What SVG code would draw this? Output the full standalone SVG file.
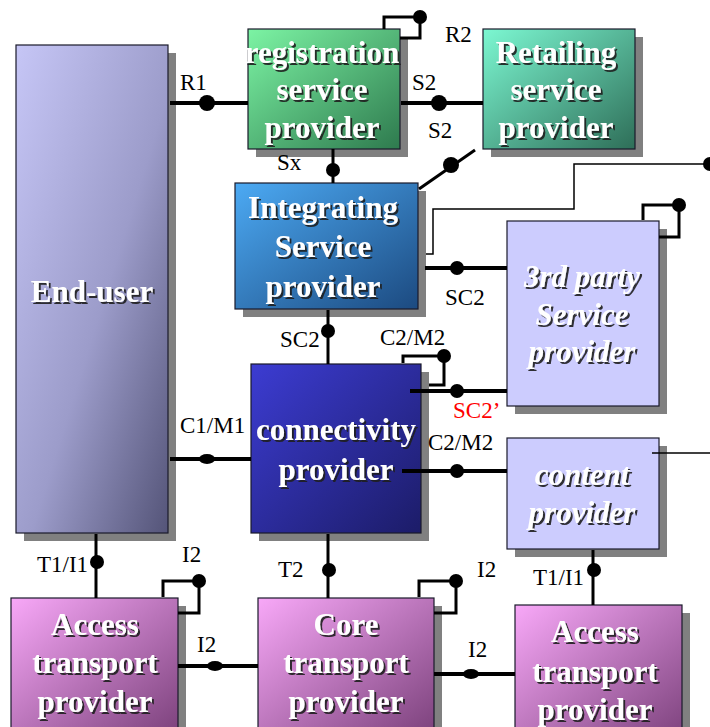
<svg xmlns="http://www.w3.org/2000/svg" width="710" height="727" viewBox="0 0 710 727">
  <defs>
    <linearGradient id="gUser" x1="0" y1="0" x2="1" y2="1">
      <stop offset="0" stop-color="#c6c6f6"/>
      <stop offset="0.55" stop-color="#9c9cca"/>
      <stop offset="1" stop-color="#545478"/>
    </linearGradient>
    <linearGradient id="gReg" x1="0" y1="0" x2="1" y2="1">
      <stop offset="0" stop-color="#7cf4a4"/>
      <stop offset="1" stop-color="#2e7a4e"/>
    </linearGradient>
    <linearGradient id="gRet" x1="0" y1="0" x2="1" y2="1">
      <stop offset="0" stop-color="#7cf8d2"/>
      <stop offset="1" stop-color="#2e6e58"/>
    </linearGradient>
    <linearGradient id="gInt" x1="0" y1="0" x2="1" y2="1">
      <stop offset="0" stop-color="#4caaf4"/>
      <stop offset="1" stop-color="#1c4a80"/>
    </linearGradient>
    <linearGradient id="gConn" x1="0" y1="0" x2="1" y2="1">
      <stop offset="0" stop-color="#3c3cd2"/>
      <stop offset="1" stop-color="#1c1c68"/>
    </linearGradient>
    <linearGradient id="gTrans" x1="0" y1="0" x2="1" y2="1">
      <stop offset="0" stop-color="#f8a8f8"/>
      <stop offset="1" stop-color="#7a407a"/>
    </linearGradient>
    <filter id="ts" x="-10%" y="-30%" width="120%" height="160%">
      <feDropShadow dx="2" dy="2" stdDeviation="0.4" flood-color="#1a1a1a" flood-opacity="0.9"/>
    </filter>
    <style>
      .shadow { fill: #808080; }
      .box { stroke: #1a1a2a; stroke-width: 1.2; }
      .name { font-family: "Liberation Serif", "Times New Roman", serif; font-weight: bold; font-size: 31px; fill: #ffffff; text-anchor: middle; filter: url(#ts); }
      .it { font-style: italic; }
      .lbl { font-family: "Liberation Serif", "Times New Roman", serif; font-size: 23px; fill: #000000; }
      .red { fill: #ff0000; }
      .wire { fill: none; stroke: #000000; stroke-width: 4; }
      .loop { fill: none; stroke: #000000; stroke-width: 3; }
      .thin { fill: none; stroke: #000000; stroke-width: 1.5; }
      .dot { fill: #000000; }
    </style>
  </defs>

  <!-- nodes -->
  <g id="end-user">
    <rect class="shadow" x="24" y="53" width="152" height="488"/>
    <rect class="box" x="16" y="45" width="152" height="488" fill="url(#gUser)"/>
    <text class="name" x="92" y="302">End-user</text>
  </g>

  <g id="registration">
    <rect class="shadow" x="256" y="37" width="152" height="120"/>
    <rect class="box" x="248" y="29" width="152" height="120" fill="url(#gReg)"/>
    <text class="name" x="322" y="63">registration</text>
    <text class="name" x="322" y="100">service</text>
    <text class="name" x="322" y="138">provider</text>
  </g>

  <g id="retailing">
    <rect class="shadow" x="491" y="37" width="152" height="120"/>
    <rect class="box" x="483" y="29" width="152" height="120" fill="url(#gRet)"/>
    <text class="name" x="556" y="63">Retailing</text>
    <text class="name" x="556" y="100">service</text>
    <text class="name" x="556" y="138">provider</text>
  </g>

  <g id="integrating">
    <rect class="shadow" x="243" y="191" width="183" height="126"/>
    <rect class="box" x="235" y="183" width="183" height="126" fill="url(#gInt)"/>
    <text class="name" x="323" y="218">Integrating</text>
    <text class="name" x="323" y="257">Service</text>
    <text class="name" x="323" y="297">provider</text>
  </g>

  <g id="third-party">
    <rect class="shadow" x="515" y="229" width="152" height="185"/>
    <rect class="box" x="507" y="221" width="152" height="185" fill="#ccccfe"/>
    <text class="name it" x="582" y="287">3rd party</text>
    <text class="name it" x="582" y="325">Service</text>
    <text class="name it" x="582" y="362">provider</text>
  </g>

  <g id="connectivity">
    <rect class="shadow" x="259" y="372" width="170" height="169"/>
    <rect class="box" x="251" y="364" width="170" height="169" fill="url(#gConn)"/>
    <text class="name" x="336" y="440">connectivity</text>
    <text class="name" x="336" y="480">provider</text>
  </g>

  <g id="content">
    <rect class="shadow" x="515" y="446" width="152" height="111"/>
    <rect class="box" x="507" y="438" width="152" height="111" fill="#ccccfe"/>
    <text class="name it" x="582" y="485">content</text>
    <text class="name it" x="582" y="523">provider</text>
  </g>

  <g id="access-left">
    <rect class="shadow" x="19" y="606" width="167" height="130"/>
    <rect class="box" x="11" y="598" width="167" height="140" fill="url(#gTrans)"/>
    <text class="name" x="95" y="635">Access</text>
    <text class="name" x="95" y="673">transport</text>
    <text class="name" x="95" y="712">provider</text>
  </g>

  <g id="core">
    <rect class="shadow" x="266" y="606" width="176" height="130"/>
    <rect class="box" x="258" y="598" width="176" height="140" fill="url(#gTrans)"/>
    <text class="name" x="346" y="635">Core</text>
    <text class="name" x="346" y="673">transport</text>
    <text class="name" x="346" y="712">provider</text>
  </g>

  <g id="access-right">
    <rect class="shadow" x="523" y="613" width="167" height="130"/>
    <rect class="box" x="515" y="605" width="167" height="140" fill="url(#gTrans)"/>
    <text class="name" x="595" y="642">Access</text>
    <text class="name" x="595" y="682">transport</text>
    <text class="name" x="595" y="720">provider</text>
  </g>

  <!-- connectors, drawn over the boxes and their shadows -->
  <g id="connectors">
    <!-- R1 -->
    <line class="wire" x1="170" y1="103" x2="248" y2="103"/>
    <circle class="dot" cx="207" cy="103" r="8"/>
    <!-- R2 self loop -->
    <polyline class="loop" points="384,29 384,17 420,17 420,38 400,38"/>
    <circle class="dot" cx="420" cy="17" r="7"/>
    <!-- S2 registration to retailing -->
    <line class="wire" x1="401" y1="103" x2="483" y2="103"/>
    <circle class="dot" cx="439" cy="103" r="8"/>
    <!-- S2 integrating to retailing (diagonal) -->
    <line class="loop" x1="419" y1="189" x2="475" y2="150"/>
    <circle class="dot" cx="451" cy="165" r="8"/>
    <!-- Sx -->
    <line class="loop" x1="333" y1="149" x2="333" y2="183"/>
    <circle class="dot" cx="333" cy="170" r="7"/>
    <!-- thin line from integrating provider -->
    <polyline class="thin" points="426,254 433,254 433,209 574,209 574,164 712,164"/>
    <circle class="dot" cx="710" cy="164" r="7"/>
    <!-- SC2 integrating to 3rd party -->
    <line class="wire" x1="425" y1="268" x2="507" y2="268"/>
    <circle class="dot" cx="457" cy="268" r="7"/>
    <!-- 3rd party self loop -->
    <polyline class="loop" points="643,220 643,205 679,205 679,237 659,237"/>
    <circle class="dot" cx="679" cy="205" r="7"/>
    <!-- SC2 integrating to connectivity -->
    <line class="loop" x1="328" y1="310" x2="328" y2="364"/>
    <circle class="dot" cx="328" cy="331" r="7"/>
    <!-- C2/M2 self loop on connectivity -->
    <polyline class="loop" points="403,363 403,356 444,356 444,385 429,385"/>
    <circle class="dot" cx="444" cy="356" r="7"/>
    <!-- SC2' -->
    <line class="wire" x1="410" y1="391" x2="507" y2="391"/>
    <circle class="dot" cx="457" cy="391" r="7"/>
    <!-- C1/M1 -->
    <line class="wire" x1="170" y1="459" x2="251" y2="459"/>
    <ellipse class="dot" cx="207" cy="459" rx="8" ry="5"/>
    <!-- C2/M2 connectivity to content -->
    <line class="wire" x1="402" y1="471" x2="507" y2="471"/>
    <circle class="dot" cx="457" cy="471" r="7"/>
    <!-- thin line from content provider -->
    <line class="thin" x1="652" y1="453" x2="712" y2="453"/>
    <!-- T1/I1 end-user to access -->
    <line class="loop" x1="96" y1="534" x2="96" y2="598"/>
    <circle class="dot" cx="97" cy="562" r="7"/>
    <!-- T2 connectivity to core -->
    <line class="loop" x1="328" y1="534" x2="328" y2="598"/>
    <circle class="dot" cx="329" cy="570" r="7"/>
    <!-- T1/I1 content to access -->
    <line class="loop" x1="593" y1="550" x2="593" y2="605"/>
    <circle class="dot" cx="594" cy="570" r="7"/>
    <!-- I2 self loop on access (left) -->
    <polyline class="loop" points="163,597 163,581 199,581 199,613 178,613"/>
    <circle class="dot" cx="199" cy="581" r="7"/>
    <!-- I2 self loop on core -->
    <polyline class="loop" points="419,597 419,581 456,581 456,613 434,613"/>
    <circle class="dot" cx="456" cy="581" r="7"/>
    <!-- I2 access to core -->
    <line class="wire" x1="178" y1="666" x2="258" y2="666"/>
    <ellipse class="dot" cx="215" cy="666" rx="8" ry="5"/>
    <!-- I2 core to access (right) -->
    <line class="wire" x1="434" y1="674" x2="515" y2="674"/>
    <ellipse class="dot" cx="471" cy="674" rx="8" ry="5"/>
  </g>

  <!-- interface labels -->
  <g id="labels">
    <text class="lbl" x="180" y="90">R1</text>
    <text class="lbl" x="445" y="42">R2</text>
    <text class="lbl" x="412" y="90">S2</text>
    <text class="lbl" x="428" y="138">S2</text>
    <text class="lbl" x="277" y="170">Sx</text>
    <text class="lbl" x="445" y="305">SC2</text>
    <text class="lbl" x="280" y="347">SC2</text>
    <text class="lbl" x="380" y="345">C2/M2</text>
    <text class="lbl red" x="453" y="418">SC2’</text>
    <text class="lbl" x="180" y="433">C1/M1</text>
    <text class="lbl" x="428" y="450">C2/M2</text>
    <text class="lbl" x="37" y="572">T1/I1</text>
    <text class="lbl" x="182" y="562">I2</text>
    <text class="lbl" x="278" y="577">T2</text>
    <text class="lbl" x="197" y="652">I2</text>
    <text class="lbl" x="477" y="577">I2</text>
    <text class="lbl" x="468" y="657">I2</text>
    <text class="lbl" x="533" y="585">T1/I1</text>
  </g>
</svg>
